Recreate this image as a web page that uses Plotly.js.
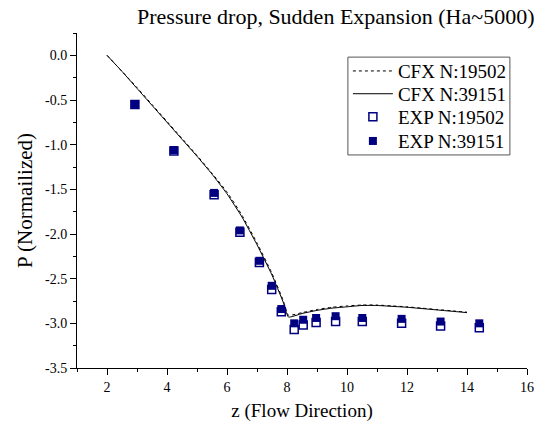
<!DOCTYPE html>
<html>
<head>
<meta charset="utf-8">
<script src="https://cdn.plot.ly/plotly-3.0.1.min.js"></script>
<style>html,body{margin:0;padding:0;background:#fff;}#chart{width:542px;height:426px;}</style>
</head>
<body>
<div id="chart"></div>
<script>
// CFX simulation curves
var cfxX = [2, 2.5, 3.0, 3.5, 4.0, 4.5, 5.0, 5.5, 6.0, 6.5, 7.0, 7.5, 7.87, 8.05, 8.5, 9.0, 9.5, 10.0, 10.5, 11.0, 11.5, 12.0, 12.5, 13.0, 13.5, 14.0];
var cfx19502Y = [0, -0.18, -0.36, -0.55, -0.74, -0.93, -1.12, -1.32, -1.53, -1.79, -2.10, -2.44, -2.74, -2.91, -2.88, -2.845, -2.82, -2.805, -2.795, -2.795, -2.805, -2.815, -2.83, -2.845, -2.86, -2.875];
var cfx39151Y = [0, -0.18, -0.37, -0.56, -0.75, -0.94, -1.13, -1.33, -1.55, -1.81, -2.12, -2.46, -2.76, -2.93, -2.89, -2.855, -2.83, -2.815, -2.80, -2.80, -2.81, -2.82, -2.835, -2.85, -2.865, -2.88];
// Experimental points
var expX = [2.93, 4.23, 5.57, 6.43, 7.08, 7.49, 7.81, 8.24, 8.54, 8.97, 9.62, 10.51, 11.82, 13.12, 14.41];
var exp19502Y = [-0.55, -1.07, -1.56, -1.98, -2.32, -2.62, -2.87, -3.07, -3.02, -2.99, -2.98, -2.98, -3.00, -3.03, -3.05];
var exp39151Y = [-0.55, -1.06, -1.54, -1.96, -2.30, -2.58, -2.84, -3.00, -2.96, -2.94, -2.92, -2.94, -2.95, -2.98, -3.00];
// Tick labels
var xTickVals = [2, 4, 6, 8, 10, 12, 14, 16];
var xTickText = ['2', '4', '6', '8', '10', '12', '14', '16'];
var yTickVals = [0, -0.5, -1, -1.5, -2, -2.5, -3, -3.5];
var yTickText = ['0.0', '-0.5', '-1.0', '-1.5', '-2.0', '-2.5', '-3.0', '-3.5'];

var serif = '"Liberation Serif", "Times New Roman", serif';
var navy = '#000080';

var traces = [
  {x: cfxX, y: cfx19502Y, mode: 'lines', name: 'CFX N:19502', legend: 'legend',
   line: {color: '#000', width: 1, dash: 'dot', shape: 'spline', smoothing: 0.4}},
  {x: cfxX, y: cfx39151Y, mode: 'lines', name: 'CFX N:39151', legend: 'legend2',
   line: {color: '#000', width: 1, shape: 'spline', smoothing: 0.4}},
  {x: expX, y: exp19502Y, mode: 'markers', name: 'EXP N:19502', legend: 'legend3',
   marker: {symbol: 'square-open', size: 8, color: navy, line: {color: navy, width: 1.5}}},
  {x: expX, y: exp39151Y, mode: 'markers', name: 'EXP N:39151', legend: 'legend4',
   marker: {symbol: 'square', size: 8, color: navy, line: {width: 0}}}
];

function leg(y) {
  return {x: 0.602, y: y, xanchor: 'left', yanchor: 'top', bgcolor: 'rgba(0,0,0,0)',
          borderwidth: 0, font: {family: serif, size: 19, color: '#000'}, itemwidth: 40};
}

var layout = {
  width: 542, height: 426,
  margin: {l: 77, r: 15, t: 33, b: 58},
  paper_bgcolor: '#fff', plot_bgcolor: '#fff',
  font: {family: serif, color: '#000', size: 14},
  title: {text: 'Pressure drop, Sudden Expansion (Ha~5000)', font: {family: serif, size: 22, color: '#000'},
          x: 0.575, xref: 'paper', xanchor: 'center', y: 0.962, yref: 'container', yanchor: 'middle'},
  showlegend: true,
  legend: leg(0.943), legend2: leg(0.875), legend3: leg(0.806), legend4: leg(0.734),
  shapes: [{type: 'rect', xref: 'paper', yref: 'paper', x0: 0.602, x1: 0.962, y0: 0.636, y1: 0.928,
            line: {color: '#555', width: 1}, fillcolor: 'rgba(0,0,0,0)', layer: 'above'}],
  xaxis: {range: [1, 16], showline: true, linecolor: '#000', linewidth: 1, mirror: false,
          showgrid: false, zeroline: false, ticks: 'outside', ticklen: 6, tickcolor: '#000',
          tickmode: 'array', tickvals: xTickVals, ticktext: xTickText, tickfont: {family: serif, size: 14},
          minor: {tick0: 0, dtick: 1, ticks: 'outside', ticklen: 3, tickcolor: '#000', showgrid: false},
          title: {text: 'z (Flow Direction)', font: {family: serif, size: 19}, standoff: 9}},
  yaxis: {range: [-3.5, 0.25], showline: true, linecolor: '#000', linewidth: 1, mirror: false,
          showgrid: false, zeroline: false, ticks: 'outside', ticklen: 6, tickcolor: '#000',
          tickmode: 'array', tickvals: yTickVals, ticktext: yTickText, tickfont: {family: serif, size: 14},
          minor: {tick0: 0, dtick: 0.25, ticks: 'outside', ticklen: 3, tickcolor: '#000', showgrid: false},
          title: {text: 'P (Normailized)', font: {family: serif, size: 21}, standoff: 6}}
};

Plotly.newPlot('chart', traces, layout, {displayModeBar: false, staticPlot: true});
</script>
</body>
</html>
